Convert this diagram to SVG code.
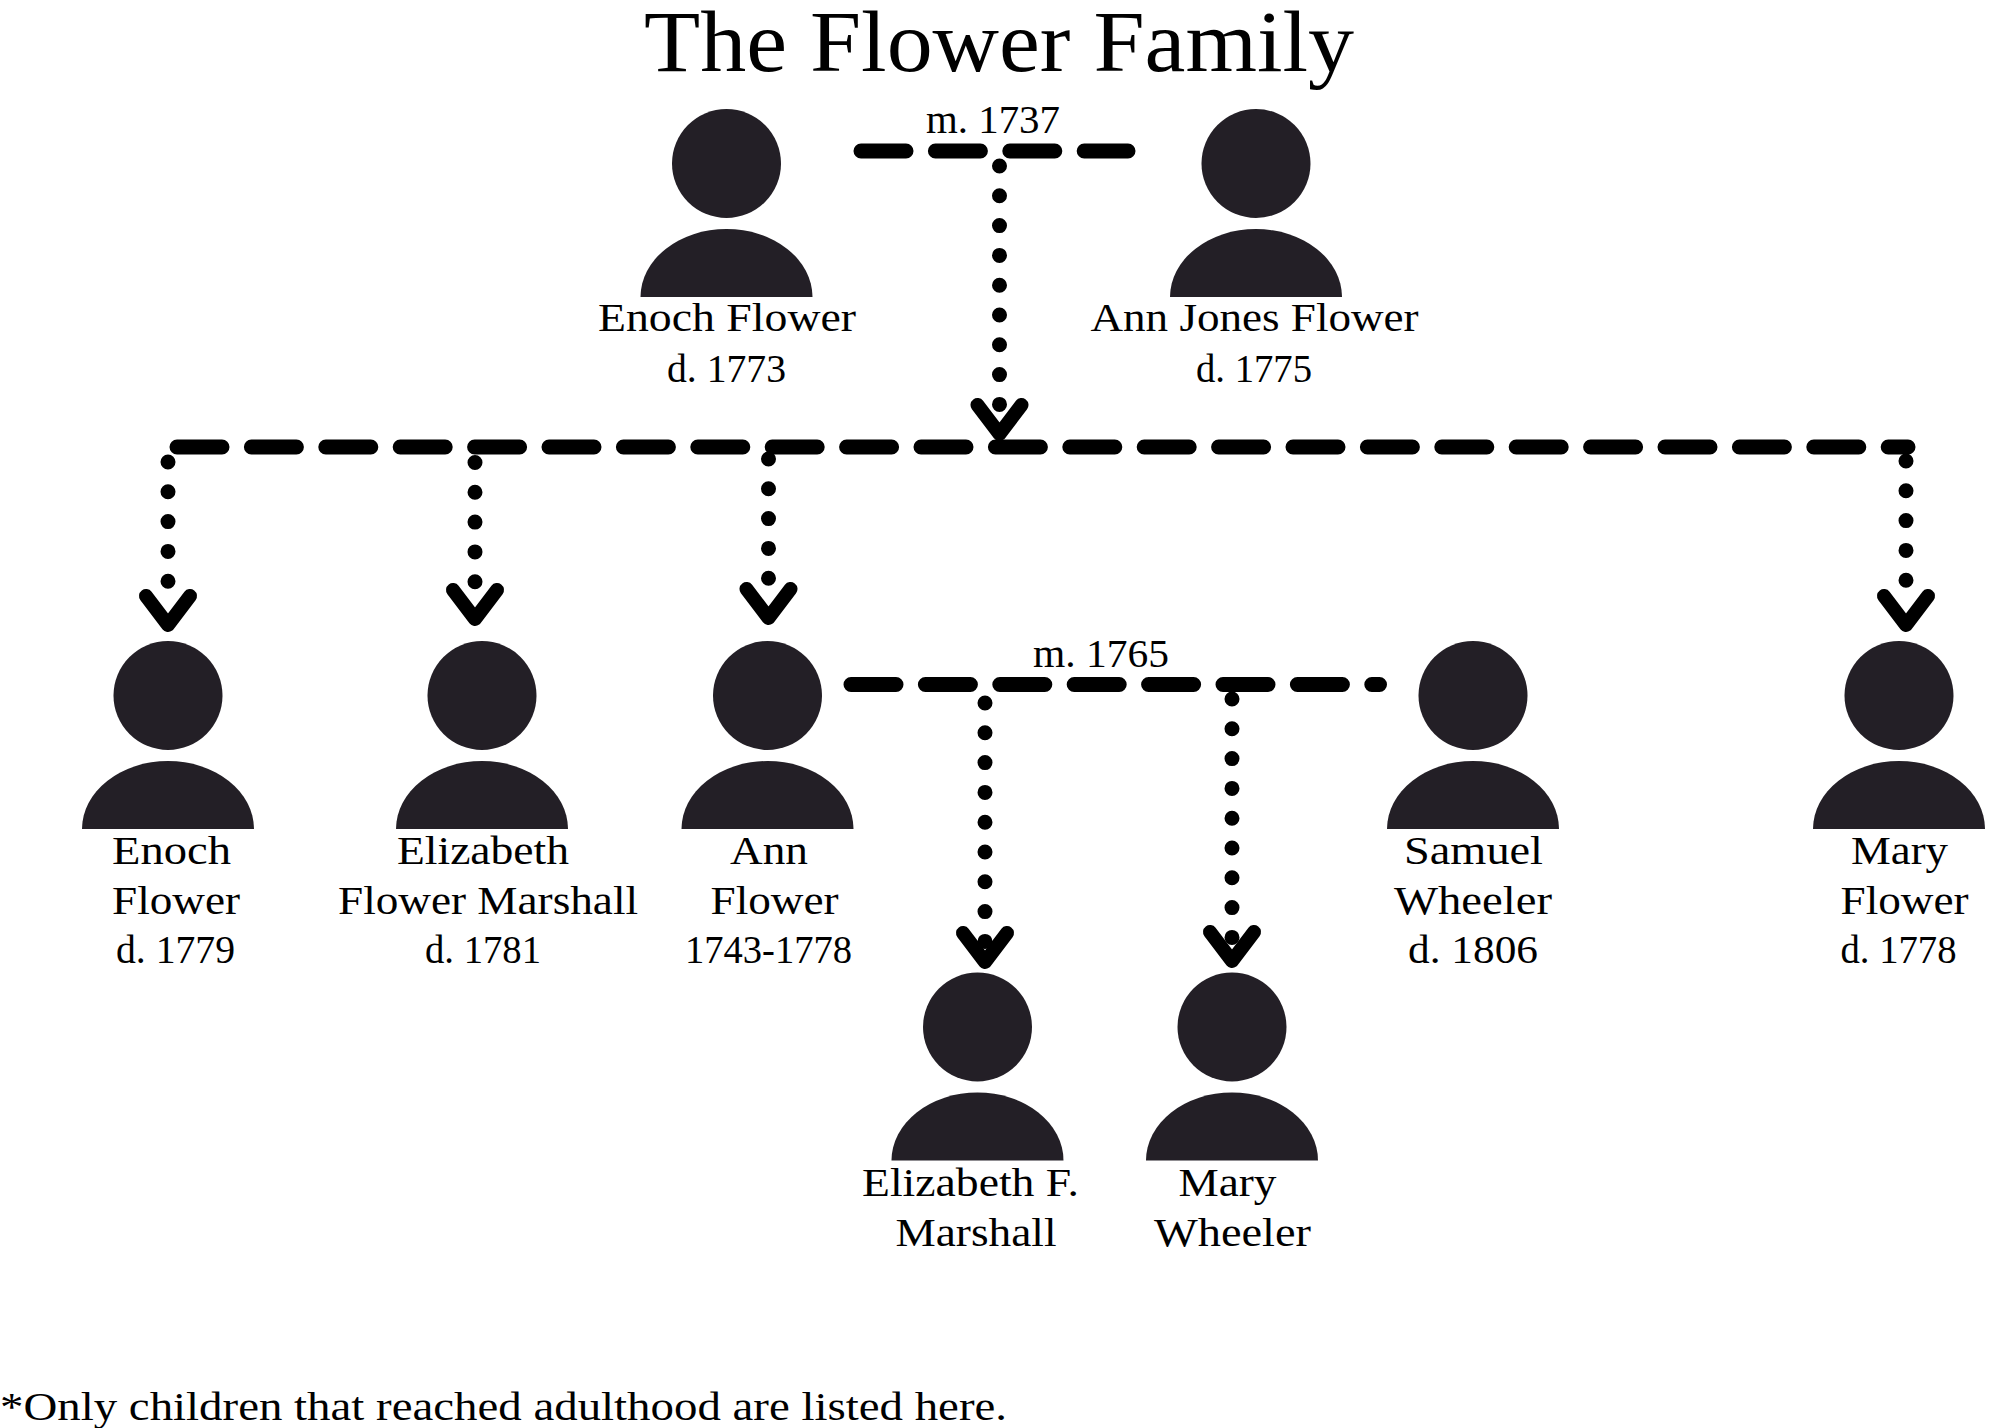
<svg xmlns="http://www.w3.org/2000/svg" xmlns:xlink="http://www.w3.org/1999/xlink" width="2000" height="1428" viewBox="0 0 2000 1428">
<style>
text{font-family:"Liberation Serif","Times New Roman",serif;font-size:41px;fill:#000;}
.title{font-size:86px;}
.dash{fill:none;stroke:#000;stroke-width:15;stroke-linecap:round;stroke-dasharray:45 29.4;}
.dot{fill:none;stroke:#000;stroke-width:15;stroke-linecap:round;stroke-dasharray:0 29.8;}
.head{fill:none;stroke:#000;stroke-width:14;stroke-linecap:round;stroke-linejoin:round;}
.p{fill:#231f26;}
</style>
<defs>
<g id="person"><circle class="p" cx="0" cy="0" r="54.5"/><path class="p" d="M-86 133.5A86 68 0 0 1 86 133.5Z"/></g>
<path id="chev" class="head" d="M-22 -29L0 0L22 -29"/>
</defs>
<rect width="2000" height="1428" fill="#fff"/>
<text id="title" class="title" x="644" y="71" textLength="710" lengthAdjust="spacingAndGlyphs">The Flower Family</text>
<g id="connectors">
<path class="dash" d="M861 151H1128"/>
<path class="dash" d="M177 447H1908"/>
<path class="dash" d="M851 684.5H1379.5"/>
<path class="dot" d="M999.5 166V406"/>
<path class="dot" d="M168 462V584"/>
<path class="dot" d="M475 462.5V583"/>
<path class="dot" d="M768.5 459V579"/>
<path class="dot" d="M1906 461V581"/>
<path class="dot" d="M985 703V942"/>
<path class="dot" d="M1232 699V938"/>
<use xlink:href="#chev" x="999.5" y="434"/>
<use xlink:href="#chev" x="168" y="625"/>
<use xlink:href="#chev" x="475" y="619"/>
<use xlink:href="#chev" x="768.5" y="618"/>
<use xlink:href="#chev" x="1906" y="625"/>
<use xlink:href="#chev" x="985" y="962"/>
<use xlink:href="#chev" x="1232" y="961"/>
<text x="926" y="133" textLength="134" lengthAdjust="spacingAndGlyphs">m. 1737</text>
<text x="1033" y="667" textLength="136" lengthAdjust="spacingAndGlyphs">m. 1765</text>
</g>
<g id="enoch-sr"><use xlink:href="#person" x="726.5" y="163.5"/>
<text x="598" y="331" textLength="258" lengthAdjust="spacingAndGlyphs">Enoch Flower</text>
<text x="667" y="382" textLength="119" lengthAdjust="spacingAndGlyphs">d. 1773</text></g>
<g id="ann-jones"><use xlink:href="#person" x="1256" y="163.5"/>
<text x="1090.5" y="331" textLength="328" lengthAdjust="spacingAndGlyphs">Ann Jones Flower</text>
<text x="1196" y="382" textLength="116" lengthAdjust="spacingAndGlyphs">d. 1775</text></g>
<g id="enoch-jr"><use xlink:href="#person" x="168" y="695.5"/>
<text x="112" y="864" textLength="119" lengthAdjust="spacingAndGlyphs">Enoch</text>
<text x="112" y="913.5" textLength="128" lengthAdjust="spacingAndGlyphs">Flower</text>
<text x="116" y="963" textLength="119" lengthAdjust="spacingAndGlyphs">d. 1779</text></g>
<g id="elizabeth"><use xlink:href="#person" x="482" y="695.5"/>
<text x="397" y="864" textLength="172" lengthAdjust="spacingAndGlyphs">Elizabeth</text>
<text x="338" y="913.5" textLength="300" lengthAdjust="spacingAndGlyphs">Flower Marshall</text>
<text x="425" y="963" textLength="116" lengthAdjust="spacingAndGlyphs">d. 1781</text></g>
<g id="ann"><use xlink:href="#person" x="767.5" y="695.5"/>
<text x="730" y="864" textLength="78" lengthAdjust="spacingAndGlyphs">Ann</text>
<text x="710.5" y="913.5" textLength="128" lengthAdjust="spacingAndGlyphs">Flower</text>
<text x="685" y="963" textLength="167" lengthAdjust="spacingAndGlyphs">1743-1778</text></g>
<g id="samuel"><use xlink:href="#person" x="1473" y="695.5"/>
<text x="1404" y="864" textLength="139" lengthAdjust="spacingAndGlyphs">Samuel</text>
<text x="1394" y="913.5" textLength="158" lengthAdjust="spacingAndGlyphs">Wheeler</text>
<text x="1408" y="963" textLength="130" lengthAdjust="spacingAndGlyphs">d. 1806</text></g>
<g id="mary"><use xlink:href="#person" x="1899" y="695.5"/>
<text x="1851" y="864" textLength="97" lengthAdjust="spacingAndGlyphs">Mary</text>
<text x="1840.5" y="913.5" textLength="128" lengthAdjust="spacingAndGlyphs">Flower</text>
<text x="1840.5" y="963" textLength="116" lengthAdjust="spacingAndGlyphs">d. 1778</text></g>
<g id="elizabeth-f"><use xlink:href="#person" x="977.5" y="1027"/>
<text x="862" y="1195.5" textLength="217" lengthAdjust="spacingAndGlyphs">Elizabeth F.</text>
<text x="895.5" y="1246" textLength="161" lengthAdjust="spacingAndGlyphs">Marshall</text></g>
<g id="mary-w"><use xlink:href="#person" x="1232" y="1027"/>
<text x="1178.5" y="1195.5" textLength="98" lengthAdjust="spacingAndGlyphs">Mary</text>
<text x="1154" y="1246" textLength="157" lengthAdjust="spacingAndGlyphs">Wheeler</text></g>
<text id="note" x="0" y="1420" style="font-size:40px" textLength="1007" lengthAdjust="spacingAndGlyphs">*Only children that reached adulthood are listed here.</text>
</svg>
